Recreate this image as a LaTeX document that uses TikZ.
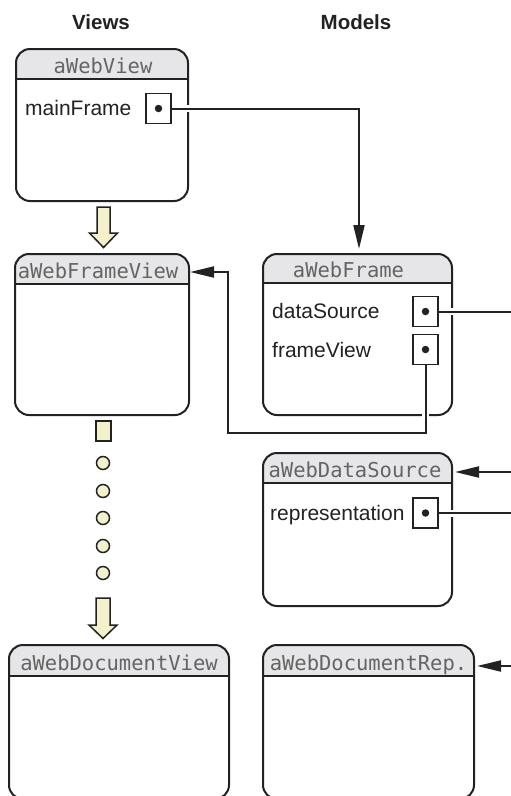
\documentclass[tikz,border=0pt]{standalone}
\usepackage{fontspec}
\setmainfont{Liberation Sans}
\newfontfamily\hdrfont{DejaVu Sans Mono}
\usetikzlibrary{arrows.meta}
\definecolor{hdrgray}{RGB}{230,230,232}
\definecolor{pale}{RGB}{242,241,204}
\definecolor{ink}{RGB}{34,34,34}
\definecolor{hdrtext}{RGB}{100,100,100}
\tikzset{
  boxline/.style={draw=ink, line width=2pt, rounded corners=14pt, rectangle, inner sep=0pt, anchor=north west},
  hdrtitle/.style={font=\hdrfont\fontsize{20.5}{24}\selectfont, text=hdrtext, inner sep=0pt, anchor=base},
  lbl/.style={font=\fontsize{21}{24}\selectfont, anchor=base west, inner sep=0pt, text=ink},
  coltitle/.style={font=\bfseries\fontsize{20.5}{24}\selectfont, text=ink, inner sep=0pt},
  slot/.style={draw=ink, line width=1.3pt, minimum width=25pt, minimum height=30pt, inner sep=0pt, fill=white},
  slotdot/.style={circle, fill=ink, minimum size=7.5pt, inner sep=0pt},
  conn/.style={draw=ink, line width=2pt},
  arr/.style={conn, -{Triangle[length=24pt,width=11pt]}},
  knock/.style={draw=white, line width=7pt},
  hollow/.style={draw=ink, line width=1.5pt, fill=pale, line join=miter},
  dotc/.style={circle, draw=ink, line width=1.5pt, fill=pale, minimum size=13pt, inner sep=0pt},
}
% name, x1, y1, x2, y2, header bottom, title centre x, title
\newcommand\objbox[8]{%
  \begin{scope}
    \clip[rounded corners=14pt] (#2,#3) rectangle (#4,#5);
    \fill[hdrgray] (#2,#3) rectangle (#4,#6);
  \end{scope}
  \draw[ink, line width=2pt] (#2,#6) -- (#4,#6);
  \node[boxline, minimum width={#4-#2}, minimum height={#5-#3}] (#1) at (#2,#3) {};
  \node[hdrtitle] (#1-t) at (#7,#6-6) {#8};
}
\begin{document}
\begin{tikzpicture}[x=1pt,y=-1pt]
\useasboundingbox (0,0) rectangle (511,796);
\fill[white] (0,0) rectangle (511,796);

% column titles
\node[coltitle] (views) at (101,22) {Views};
\node[coltitle] (models) at (356,22) {Models};

% boxes
\objbox{wv}{15}{48}{187}{200}{79}{103}{aWebView}
\objbox{wfv}{14}{253}{188}{414}{284}{98}{aWebFrameView}
\objbox{wf}{262}{253}{451}{414}{283}{348.5}{aWebFrame}
\objbox{wds}{262}{452}{451}{605}{483}{355}{aWebDataSource}
\objbox{wdv}{8}{644}{228}{798}{676}{119}{aWebDocumentView}
\objbox{wdr}{262}{644}{473}{798}{676}{368.5}{aWebDocumentRep.}

% labels
\node[lbl] (mfl) at (25,115) {mainFrame};
\node[lbl] (dsl) at (272,318) {dataSource};
\node[lbl] (fvl) at (272,357) {frameView};
\node[lbl] (repl) at (270,520) {representation};

% slots
\node[slot] (mf) at (158.5,108.5) {};
\node[slot] (ds) at (425.5,311.5) {};
\node[slot] (fv) at (425.5,349.5) {};
\node[slot] (rep) at (425.5,513) {};
\foreach \s in {mf,ds,fv,rep} \node[slotdot] (\s-d) at (\s.center) {};

% connector end points
\coordinate (mfend) at (359,249);
\coordinate (dsout) at (511,311.5);
\coordinate (fvturn) at (228,433);
\coordinate (wfvin) at (190,272);
\coordinate (repout) at (511,513);
\coordinate (dsin) at (511,472);
\coordinate (dsinend) at (455,472);
\coordinate (drin) at (511,666);
\coordinate (drinend) at (477,666);

% knock-outs where lines cross borders
\draw[knock] ([xshift=2pt]mf.east) -- ++(22,0);
\draw[knock] ([xshift=2pt]ds.east) -- ++(22,0);
\draw[knock] ([xshift=2pt]rep.east) -- ++(22,0);
\draw[knock] ([yshift=-2pt]fv.south) -- ++(0,60);

% connectors
\draw[arr] (mf.east) -| (mfend);
\draw[conn] (ds.east) -- (dsout);
\draw[arr] (fv.south) |- (fvturn) |- (wfvin);
\draw[conn] (rep.east) -- (repout);
\draw[arr] (dsin) -- (dsinend);
\draw[arr] (drin) -- (drinend);

% hollow arrows and dots (Views column)
\draw[hollow] (97,207) -- (110,207) -- (110,233) -- (117.5,233) -- (103.5,247.5) -- (89.5,233) -- (97,233) -- cycle;
\draw[hollow] (96,421) rectangle (111,441);
\foreach \i/\y in {1/463,2/491,3/518,4/546,5/573}
  \node[dotc] (dot\i) at (103,\y) {};
\draw[hollow] (96,598) -- (110,598) -- (110,625) -- (117,625) -- (103,638.5) -- (89,625) -- (96,625) -- cycle;
\end{tikzpicture}
\end{document}
